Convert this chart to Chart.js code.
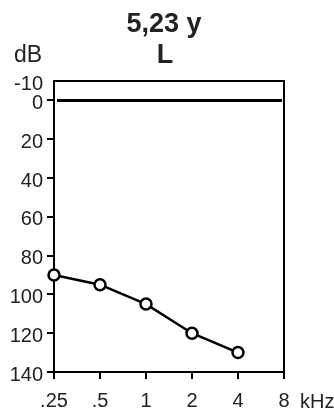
<!DOCTYPE html>
<html>
<head>
<meta charset="utf-8">
<script src="https://cdn.jsdelivr.net/npm/chart.js@4"></script>
<style>
  body { margin: 0; background: #fff; }
  #wrap { width: 334px; height: 412px; position: relative; }
</style>
</head>
<body>
<div id="wrap"><canvas id="audio"></canvas></div>
<script>
// datos del audiograma
var frecuencias = ['.25', '.5', '1', '2', '4', '8'];
var umbralL = [90, 95, 105, 120, 130, null];
var referencia = [0, 0, 0, 0, 0, 0];
var ticksDb = [-10, 0, 20, 40, 60, 80, 100, 120, 140];
var titulo = ['5,23 y', 'L'];

var fuente = 'Liberation Sans, Arial, Helvetica, sans-serif';

// textos sueltos y marco del grafico
var textosPlugin = {
  id: 'textosPlugin',
  beforeDatasetsDraw: function (chart) {
    var c = chart.ctx, a = chart.chartArea;
    c.save();
    c.strokeStyle = '#000';
    c.lineWidth = 2;
    c.beginPath();
    c.moveTo(a.left, a.top);
    c.lineTo(a.right, a.top);
    c.lineTo(a.right, a.bottom);
    c.stroke();
    c.restore();
  },
  afterDraw: function (chart) {
    var c = chart.ctx;
    c.save();
    c.fillStyle = '#222';
    c.textAlign = 'center';
    c.textBaseline = 'alphabetic';
    c.font = 'bold 27px ' + fuente;
    c.fillText(titulo[0], 164, 32);
    c.fillText(titulo[1], 165, 63);
    c.font = '23px ' + fuente;
    c.textAlign = 'left';
    c.fillText('dB', 14, 62);
    c.font = '20px ' + fuente;
    c.fillText('kHz', 300, 408);
    c.restore();
  }
};

var ctx = document.getElementById('audio').getContext('2d');
var grafico = new Chart(ctx, {
  type: 'line',
  data: {
    labels: frecuencias,
    datasets: [
      { label: '0 dB', data: referencia, borderColor: '#000', borderWidth: 3, pointRadius: 0, fill: false,
        clip: { left: -3, right: -2, top: 0, bottom: 0 } },
      { label: 'L', data: umbralL, borderColor: '#000', borderWidth: 2.5, pointRadius: 5.5, pointBorderWidth: 2.5,
        pointBackgroundColor: '#fff', pointBorderColor: '#000', fill: false, clip: false }
    ]
  },
  options: {
    responsive: true,
    maintainAspectRatio: false,
    animation: false,
    layout: { padding: { top: 81, right: 50, left: 0, bottom: 0 } },
    plugins: { legend: { display: false }, title: { display: false }, tooltip: { enabled: false } },
    scales: {
      x: {
        type: 'category',
        offset: false,
        afterFit: function (s) { s.height = 40; },
        grid: { offset: false, drawOnChartArea: false, drawTicks: true, tickLength: 7, color: '#000', lineWidth: 2 },
        border: { display: true, color: '#000', width: 2 },
        ticks: { color: '#222', font: { family: fuente, size: 20 }, padding: 10, maxRotation: 0, autoSkip: false }
      },
      y: {
        type: 'linear',
        reverse: true,
        min: -10,
        max: 140,
        afterBuildTicks: function (s) { s.ticks = ticksDb.map(function (v) { return { value: v }; }); },
        afterFit: function (s) { s.width = 54; },
        grid: {
          drawOnChartArea: false, drawTicks: true, tickLength: 7, lineWidth: 2,
          color: function (c) { return c.tick && c.tick.value === -10 ? 'rgba(0,0,0,0)' : '#000'; }
        },
        border: { display: true, color: '#000', width: 2 },
        ticks: { color: '#222', font: { family: fuente, size: 20 }, padding: 4, labelOffset: 3 }
      }
    }
  },
  plugins: [textosPlugin]
});
</script>
</body>
</html>
